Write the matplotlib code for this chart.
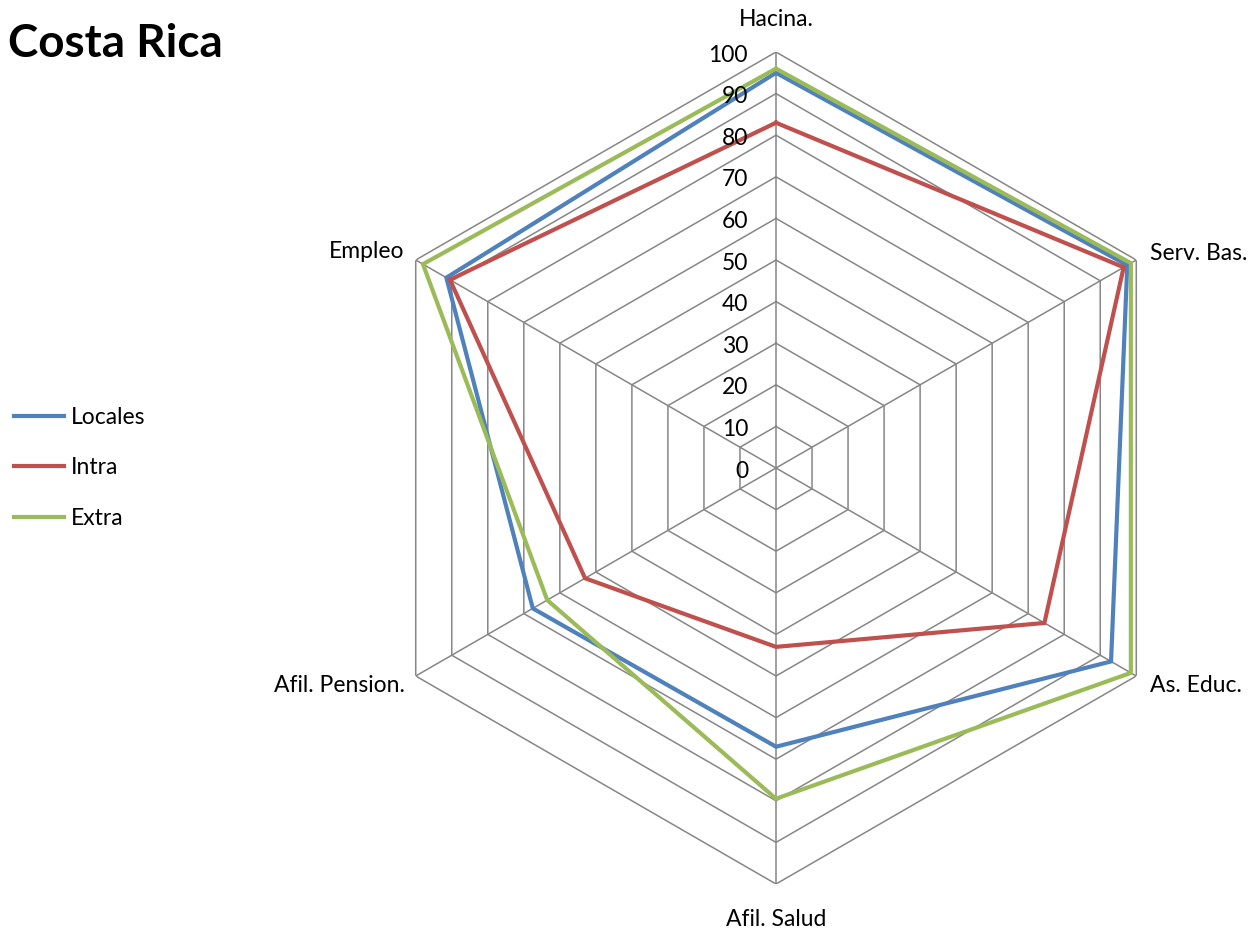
import numpy as np
import matplotlib
matplotlib.use("Agg")
import matplotlib.pyplot as plt

plt.rcParams['font.family'] = ['Lato', 'DejaVu Sans']

categories = ["Hacina.", "Serv. Bas.", "As. Educ.", "Afil. Salud", "Afil. Pension.", "Empleo"]
locales = [95, 97.5, 93, 67, 67.5, 91.5]
intra = [83, 96.5, 74.5, 43, 53, 90.5]
extra = [96, 98.5, 98.5, 79.5, 63.5, 98]
series_names = ["Locales", "Intra", "Extra"]
colors = ["#4F81BD", "#C0504D", "#9BBB59"]
r_ticks = list(range(0, 101, 10))

W, H = 1258, 933
fig = plt.figure(figsize=(W / 100, H / 100), dpi=100)
cx, cy, R = 776, 468, 416
ax = fig.add_axes([(cx - R) / W, (H - cy - R) / H, 2 * R / W, 2 * R / H], projection='polar')
ax.set_theta_zero_location('N')
ax.set_theta_direction(-1)
ax.set_ylim(0, 100)
ax.grid(False)
ax.set_xticks([])
ax.set_yticks([])
ax.spines['polar'].set_visible(False)
ax.patch.set_visible(False)

n = len(categories)
theta = np.linspace(0, 2 * np.pi, n, endpoint=False)
theta_c = np.append(theta, theta[0])

grid_color = "#868686"
for r in r_ticks[1:]:
    ax.plot(theta_c, [r] * (n + 1), color=grid_color, lw=1.1, zorder=1)
for t in theta:
    ax.plot([t, t], [0, 100], color=grid_color, lw=1.1, zorder=1)

for name, vals, c in zip(series_names, [locales, intra, extra], colors):
    v = list(vals) + [vals[0]]
    ax.plot(theta_c, v, color=c, lw=3, label=name, zorder=3, solid_joinstyle='miter')

fs = 16.5
for r in r_ticks:
    ax.annotate(str(r), xy=(0, r), xytext=(-28, -3), textcoords='offset pixels',
                ha='right', va='center', fontsize=fs, color='black', zorder=5)

offsets = [(0, 32, 'center'), (14, 6, 'left'), (14, -9, 'left'),
           (0, -36, 'center'), (-11, -9, 'right'), (-11, 9, 'right')]
for t, lab, (dx, dy, ha) in zip(theta, categories, offsets):
    ax.annotate(lab, xy=(t, 100), xytext=(dx, dy), textcoords='offset pixels',
                ha=ha, va='center', fontsize=fs, color='black')

fig.text(8 / W, 1 - 44 / H, "Costa Rica", fontsize=33, fontweight='bold',
         ha='left', va='center')

leg = fig.legend(loc='center left', bbox_to_anchor=(14 / W, 1 - 468 / H), frameon=False,
                 fontsize=fs, handlelength=2.2, labelspacing=1.3, handletextpad=0.3,
                 borderaxespad=0, borderpad=0)

fig.savefig("out.png", dpi=100)
